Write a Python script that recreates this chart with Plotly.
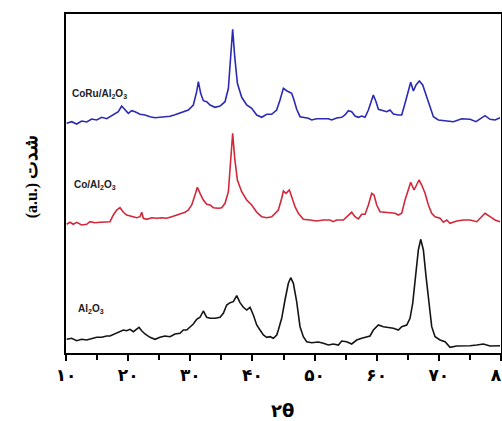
import plotly.graph_objects as go

# --- data (2θ in degrees, intensity in arbitrary units incl. vertical offset per pattern) ---
coru_x = [10.11, 10.91, 11.72, 12.52, 13.33, 14.13, 14.94, 15.74, 16.55, 17.08, 17.89, 18.42, 18.96, 19.50, 20.03,
          20.57, 21.11, 21.91, 22.71, 23.52, 24.32, 25.13, 25.93, 26.74, 27.54, 28.35, 28.88, 29.69, 30.49, 31.03,
          31.30, 31.67, 32.10, 32.64, 33.18, 33.98, 34.79, 35.59, 36.13, 36.50, 36.82, 37.15, 37.58, 38.27, 39.08,
          39.88, 40.69, 41.49, 42.30, 43.10, 43.37, 43.90, 44.44, 44.98, 45.51, 46.32, 46.69, 47.12, 47.66, 48.19,
          49.00, 49.54, 50.34, 51.41, 52.22, 52.75, 53.56, 54.36, 54.90, 55.44, 55.97, 56.51, 57.05, 57.58, 58.12,
          58.66, 59.19, 59.46, 59.89, 60.27, 61.07, 61.61, 62.14, 62.68, 63.48, 64.02, 64.56, 65.09, 65.47, 65.90,
          66.33, 66.86, 67.40, 68.04, 68.58, 69.12, 69.92, 71.26, 72.34, 73.68, 75.02, 75.98, 76.74, 77.43, 78.24,
          79.04, 79.85]
coru_y = [229.7, 231.3, 229.0, 232.0, 231.0, 234.0, 233.0, 235.7, 234.3, 236.3, 239.7, 241.3, 247.0, 243.0, 239.7,
          242.3, 241.3, 238.7, 238.0, 236.3, 235.3, 235.7, 236.3, 236.7, 238.3, 240.3, 241.3, 243.0, 248.0, 261.3,
          271.3, 259.7, 252.3, 251.3, 248.0, 245.7, 247.0, 251.3, 264.7, 296.3, 323.7, 296.3, 269.7, 255.7, 248.0,
          244.7, 238.0, 235.7, 238.7, 238.7, 240.3, 243.0, 253.0, 264.7, 262.3, 259.7, 253.0, 243.7, 236.3, 235.7,
          234.7, 233.0, 234.3, 234.3, 234.3, 233.0, 235.0, 235.7, 238.0, 242.3, 241.3, 237.0, 235.7, 237.0, 235.7,
          243.0, 254.7, 258.0, 251.3, 243.7, 242.3, 241.3, 243.0, 239.0, 238.0, 238.0, 249.7, 263.0, 270.7, 262.0,
          268.0, 272.0, 268.0, 256.3, 245.7, 236.3, 233.0, 232.3, 231.3, 234.3, 233.7, 231.3, 234.7, 237.3, 233.7,
          233.0, 235.3]

co_x = [10.11, 10.64, 11.18, 11.72, 12.52, 13.33, 13.86, 14.67, 15.47, 16.28, 17.08, 17.62, 18.15, 18.69, 19.23,
        19.76, 20.57, 21.37, 21.91, 22.18, 22.45, 22.98, 23.79, 24.59, 25.40, 26.20, 27.01, 27.81, 28.35, 29.15,
        29.69, 30.23, 30.76, 31.14, 31.57, 32.10, 32.64, 33.18, 33.71, 34.52, 35.05, 35.59, 36.13, 36.50, 36.82,
        37.15, 37.58, 38.27, 39.08, 39.88, 40.69, 41.49, 42.30, 43.10, 43.63, 44.17, 44.71, 44.98, 45.41, 45.94,
        46.32, 46.85, 47.39, 48.19, 49.27, 50.34, 51.41, 52.49, 53.02, 53.56, 54.63, 55.44, 55.97, 56.51, 57.05,
        57.58, 58.12, 58.66, 59.19, 59.57, 60.00, 60.53, 61.34, 62.14, 62.95, 63.48, 64.02, 64.56, 65.09, 65.47,
        66.01, 66.81, 67.24, 67.78, 68.31, 68.85, 69.39, 70.19, 70.73, 71.26, 71.80, 72.87, 73.95, 75.02, 76.09,
        76.90, 77.43, 78.24, 79.04, 79.85]
co_y = [128.7, 130.7, 128.7, 130.7, 128.0, 128.7, 131.3, 130.3, 130.7, 131.3, 131.3, 138.0, 143.0, 145.3, 140.7,
        138.0, 136.3, 135.3, 136.3, 140.7, 134.7, 133.7, 135.3, 134.7, 135.3, 134.7, 136.3, 138.0, 138.7, 140.7,
        143.0, 148.0, 158.0, 165.7, 159.7, 153.0, 148.7, 148.0, 145.3, 144.7, 145.3, 149.7, 161.3, 194.7, 219.7,
        194.7, 173.0, 161.3, 153.0, 148.0, 140.7, 136.3, 135.3, 136.3, 139.7, 143.0, 154.7, 162.0, 159.7, 163.0,
        156.3, 146.3, 139.7, 133.7, 133.0, 132.0, 133.0, 133.0, 131.3, 133.0, 133.0, 138.0, 140.7, 136.3, 134.0,
        138.7, 138.7, 148.0, 159.7, 158.0, 148.0, 141.3, 140.7, 139.7, 139.7, 138.0, 139.7, 153.0, 164.7, 170.7,
        163.0, 173.0, 168.0, 159.7, 148.0, 139.7, 136.3, 134.7, 130.7, 133.0, 129.7, 132.0, 133.0, 133.0, 131.3,
        136.3, 139.7, 136.3, 133.0, 131.3]

al_x = [10.11, 10.91, 11.72, 12.52, 13.33, 14.13, 14.94, 15.74, 16.55, 17.08, 17.89, 18.69, 19.23, 19.76, 20.30,
        20.84, 21.27, 21.75, 22.18, 22.71, 23.52, 24.32, 25.13, 25.93, 26.74, 27.54, 28.35, 28.88, 29.42, 29.96,
        30.49, 31.03, 31.57, 32.10, 32.64, 33.18, 33.98, 34.79, 35.32, 35.86, 36.40, 36.93, 37.47, 38.00, 38.54,
        39.08, 39.61, 40.15, 40.69, 41.22, 41.76, 42.30, 42.84, 43.37, 43.91, 44.17, 44.71, 45.24, 45.78, 46.16,
        46.59, 47.12, 47.66, 48.19, 48.73, 49.54, 50.61, 51.41, 52.22, 53.02, 53.83, 54.36, 55.17, 55.97, 56.78,
        57.58, 58.39, 58.92, 59.46, 60.27, 61.07, 61.88, 62.68, 63.48, 64.02, 64.83, 65.36, 65.79, 66.22, 66.70,
        67.08, 67.51, 67.94, 68.37, 68.85, 69.39, 70.19, 71.00, 71.80, 72.87, 73.95, 75.02, 76.09, 77.17, 78.24,
        79.85]
al_y = [13.7, 14.7, 12.3, 13.7, 13.0, 14.7, 15.7, 15.7, 17.0, 17.0, 19.0, 21.3, 23.0, 22.3, 23.7,
        21.3, 23.0, 25.7, 22.3, 19.0, 15.7, 13.7, 15.7, 17.0, 16.3, 19.0, 19.7, 23.0, 23.0, 26.3,
        29.0, 33.7, 35.7, 42.0, 35.7, 34.7, 34.7, 35.7, 39.7, 48.0, 50.3, 51.3, 57.3, 50.3, 45.7,
        43.0, 45.7, 38.0, 28.0, 23.0, 18.0, 15.7, 16.3, 14.7, 18.0, 23.0, 34.7, 53.0, 69.7, 75.3,
        69.7, 51.3, 26.3, 16.3, 11.3, 10.3, 11.0, 9.7, 8.0, 9.0, 8.0, 12.0, 11.3, 9.0, 13.0,
        14.7, 15.7, 17.0, 23.0, 28.0, 26.3, 25.7, 24.7, 23.0, 26.3, 28.0, 34.7, 49.7, 76.3, 103.0,
        113.7, 103.0, 76.3, 49.7, 26.3, 16.3, 13.0, 11.3, 5.7, 7.0, 7.0, 7.3, 8.0, 9.0, 7.0,
        7.3]

tick_vals = [10, 20, 30, 40, 50, 60, 70, 80]
tick_text = ["۱۰", "۲۰", "۳۰", "۴۰", "۵۰", "۶۰", "۷۰", "۸۰"]

labels = ["CoRu/Al<sub>2</sub>O<sub>3</sub>", "Co/Al<sub>2</sub>O<sub>3</sub>", "Al<sub>2</sub>O<sub>3</sub>"]

fig = go.Figure()
fig.add_trace(go.Scatter(x=coru_x, y=coru_y, mode="lines", line=dict(color="#2a2ab4", width=1.6), showlegend=False))
fig.add_trace(go.Scatter(x=co_x, y=co_y, mode="lines", line=dict(color="#d2283a", width=1.6), showlegend=False))
fig.add_trace(go.Scatter(x=al_x, y=al_y, mode="lines", line=dict(color="#151515", width=1.6), showlegend=False))

ann_font = dict(family="Liberation Sans, Arial", size=10, color="#222222")
fig.add_annotation(x=10.6, y=259, text="<b>" + labels[0] + "</b>", showarrow=False, xanchor="left", font=ann_font)
fig.add_annotation(x=11.0, y=168, text="<b>" + labels[1] + "</b>", showarrow=False, xanchor="left", font=ann_font)
fig.add_annotation(x=11.6, y=44, text="<b>" + labels[2] + "</b>", showarrow=False, xanchor="left", font=ann_font)

fig.add_annotation(xref="paper", yref="paper", x=-0.11, y=0.52, textangle=-90,
                   text='<b>(a.u.) <span style="font-size:19px">شدت</span></b>',
                   showarrow=False, font=dict(family="Liberation Serif, DejaVu Serif", size=16, color="black"))
fig.add_annotation(xref="paper", yref="paper", x=0.498, y=-0.17, yanchor="middle", text="<b>۲θ</b>",
                   showarrow=False, font=dict(family="DejaVu Sans", size=18, color="black"))

fig.update_layout(
    width=502, height=421,
    margin=dict(l=66, r=1, t=14, b=68, autoexpand=False),
    plot_bgcolor="white", paper_bgcolor="white",
    xaxis=dict(range=[10, 80], tickvals=tick_vals, ticktext=tick_text, ticks="outside", ticklen=6,
               tickwidth=1.5, tickcolor="black", showgrid=False, zeroline=False, automargin=False,
               ticklabeloverflow="allow",
               showline=True, linecolor="black", linewidth=2, mirror=True,
               minor=dict(dtick=5, ticks="outside", ticklen=5, tickwidth=1.5, tickcolor="black"),
               tickfont=dict(family="DejaVu Sans", size=17, color="black", weight="bold")),
    yaxis=dict(range=[0, 339], showticklabels=False, ticks="", showgrid=False, zeroline=False, automargin=False,
               showline=True, linecolor="black", linewidth=2, mirror=True),
)

fig.write_html("out.html", config={"displayModeBar": False},
               post_script="document.body.style.margin='0px';document.body.style.overflow='hidden';")
